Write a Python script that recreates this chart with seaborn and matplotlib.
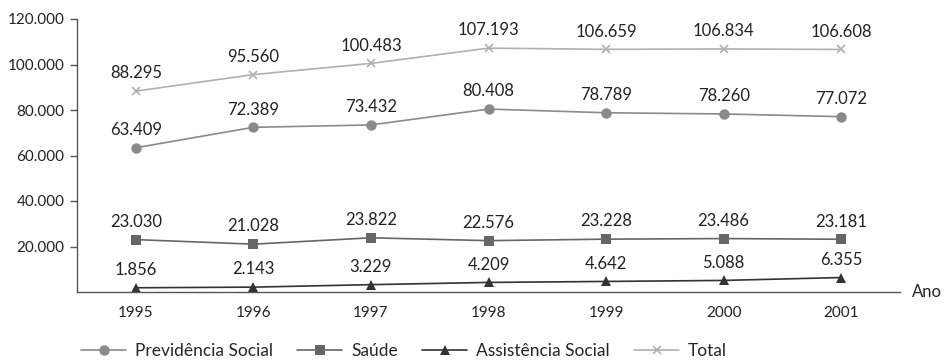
import matplotlib
matplotlib.use("Agg")
import matplotlib.pyplot as plt
import seaborn as sns
import pandas as pd
from matplotlib.lines import Line2D

anos = ["1995", "1996", "1997", "1998", "1999", "2000", "2001"]
previdencia = [63409, 72389, 73432, 80408, 78789, 78260, 77072]
saude = [23030, 21028, 23822, 22576, 23228, 23486, 23181]
assistencia = [1856, 2143, 3229, 4209, 4642, 5088, 6355]
total = [88295, 95560, 100483, 107193, 106659, 106834, 106608]
y_ticks = [20000, 40000, 60000, 80000, 100000, 120000]

series = [
    ("Previdência Social", previdencia, "o", "#8a8a8a", 7.5),
    ("Saúde", saude, "s", "#666666", 7.5),
    ("Assistência Social", assistencia, "^", "#333333", 7.5),
    ("Total", total, "x", "#b0b0b0", 6),
]

sns.set_theme(style="white")
plt.rcParams["font.family"] = ["Lato", "DejaVu Sans"]

fig = plt.figure(figsize=(9.47, 3.62), dpi=100)
ax = fig.add_axes([77 / 947, 1 - 292 / 362, (900 - 77) / 947, (292 - 19) / 362])

def fmt(v):
    return f"{v:,}".replace(",", ".")

handles = []
for name, vals, marker, color, ms in series:
    df = pd.DataFrame({"x": range(len(anos)), "y": vals})
    mew = 1.2 if marker == "x" else 0
    sns.lineplot(data=df, x="x", y="y", ax=ax, color=color, marker=marker,
                 markersize=ms, markeredgecolor=color, markeredgewidth=mew,
                 linewidth=1.2, legend=False)
    for i, v in enumerate(vals):
        ax.annotate(fmt(v), (i, v), xytext=(0, 7), textcoords="offset points",
                    ha="center", va="bottom", fontsize=12, color="#222222")
    handles.append(Line2D([0], [0], color=color, marker=marker, markersize=ms,
                          markeredgecolor=color, markeredgewidth=mew,
                          linewidth=1.2, label=name))

ax.set_xlim(-0.5, len(anos) - 0.5)
ax.set_ylim(0, 120000)
ax.set_yticks(y_ticks)
ax.set_yticklabels([fmt(t) for t in y_ticks], fontsize=11, color="#222222")
ax.set_xticks(range(len(anos)))
ax.set_xticklabels(anos, fontsize=11, color="#222222")
ax.set_xticks([i - 0.5 for i in range(len(anos) + 1)], minor=True)
ax.tick_params(axis="x", which="major", length=0, pad=10)
ax.tick_params(axis="x", which="minor", length=8, direction="inout", color="#555555", width=1)
ax.tick_params(axis="y", which="major", length=5, direction="out", color="#555555", width=1, pad=4, left=True)
ax.set_xlabel("")
ax.set_ylabel("")

for side in ["top", "right"]:
    ax.spines[side].set_visible(False)
for side in ["left", "bottom"]:
    ax.spines[side].set_color("#555555")
    ax.spines[side].set_linewidth(1)

ax.text(1.015, 0, "Ano", transform=ax.transAxes, ha="left", va="center",
        fontsize=12, color="#222222")

fig.legend(handles=handles, loc="center", bbox_to_anchor=(404 / 947, 1 - 351 / 362),
           ncol=4, frameon=False, fontsize=12.5, handlelength=2.6, columnspacing=1.4,
           handletextpad=0.5)

fig.savefig("out.png", dpi=100)
